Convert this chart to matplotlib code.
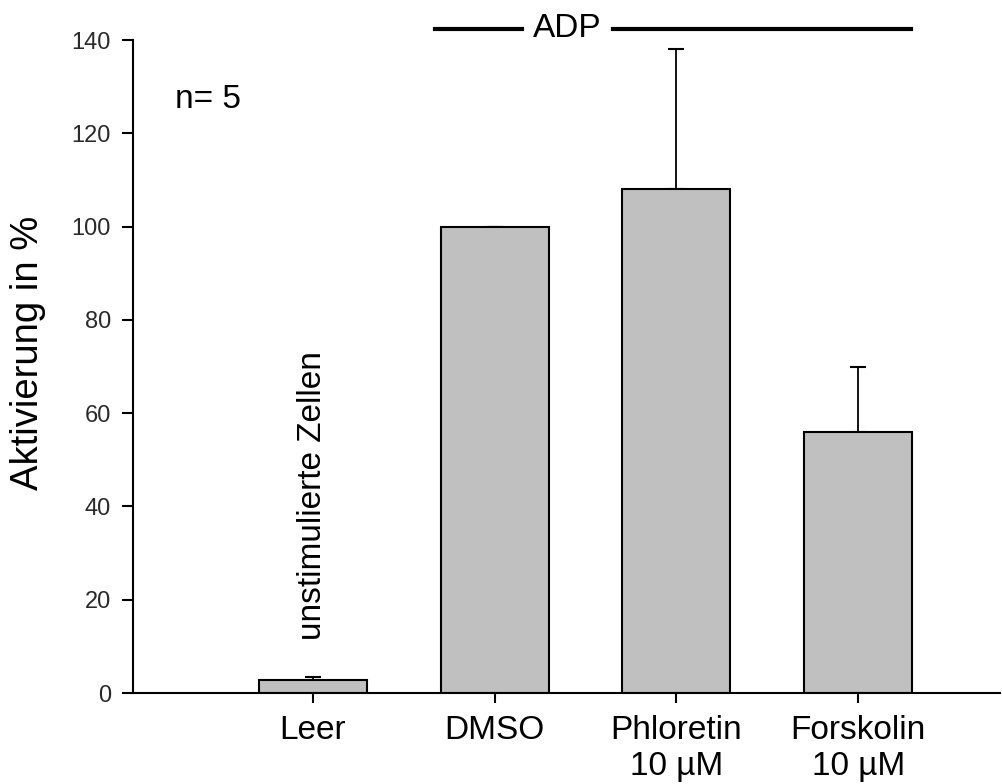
import matplotlib
matplotlib.use("Agg")
import matplotlib.pyplot as plt
import numpy as np

plt.rcParams['font.family'] = ['Liberation Sans', 'DejaVu Sans']

categories = ['Leer', 'DMSO', 'Phloretin\n10 µM', 'Forskolin\n10 µM']
values = [2.8, 100, 108, 56]
errors = [0.7, 0, 30, 14]
yticks = [0, 20, 40, 60, 80, 100, 120, 140]

fig = plt.figure(figsize=(10.02, 7.84), dpi=100)
ax = fig.add_axes([133/1002, 91/784, 867/1002, 653/784])

x = np.arange(len(categories))
ax.bar(x, values, width=0.594, color='#c0c0c0', edgecolor='black', linewidth=1.5, zorder=2)
# only the upper half of the error bars is drawn
ax.errorbar(x, values, yerr=[np.zeros(len(errors)), errors], fmt='none',
            ecolor='black', elinewidth=1.3, capsize=6, capthick=1.5, zorder=1)

ax.set_xlim(-0.99, 3.78)
ax.set_ylim(0, 140)
ax.set_yticks(yticks)
ax.set_xticks(x)
ax.set_xticklabels(categories, fontsize=24, linespacing=1.2)
ax.tick_params(axis='y', labelsize=17, length=8, width=1.5, pad=8, labelcolor='#2a2a2a')
ax.tick_params(axis='x', length=7, width=1.5, pad=9)

for s in ['top', 'right']:
    ax.spines[s].set_visible(False)
for s in ['left', 'bottom']:
    ax.spines[s].set_linewidth(1.5)

fig.text(28/1002, 1 - 353/784, 'Aktivierung in %', fontsize=27.5, rotation=90,
         ha='center', va='center')

ax.text(-0.76, 125.4, 'n= 5', fontsize=24, va='baseline', ha='left')
ax.text(0, 11.3, 'unstimulierte Zellen', fontsize=24, rotation=90, ha='center', va='bottom')

# ADP bracket above the plot
ax.plot([0.67, 1.15], [142.4, 142.4], color='black', lw=3, clip_on=False)
ax.plot([1.65, 3.29], [142.4, 142.4], color='black', lw=3, clip_on=False)
ax.text(1.40, 142.4, 'ADP', fontsize=24, ha='center', va='center', clip_on=False)

fig.savefig('out.png', dpi=100)
